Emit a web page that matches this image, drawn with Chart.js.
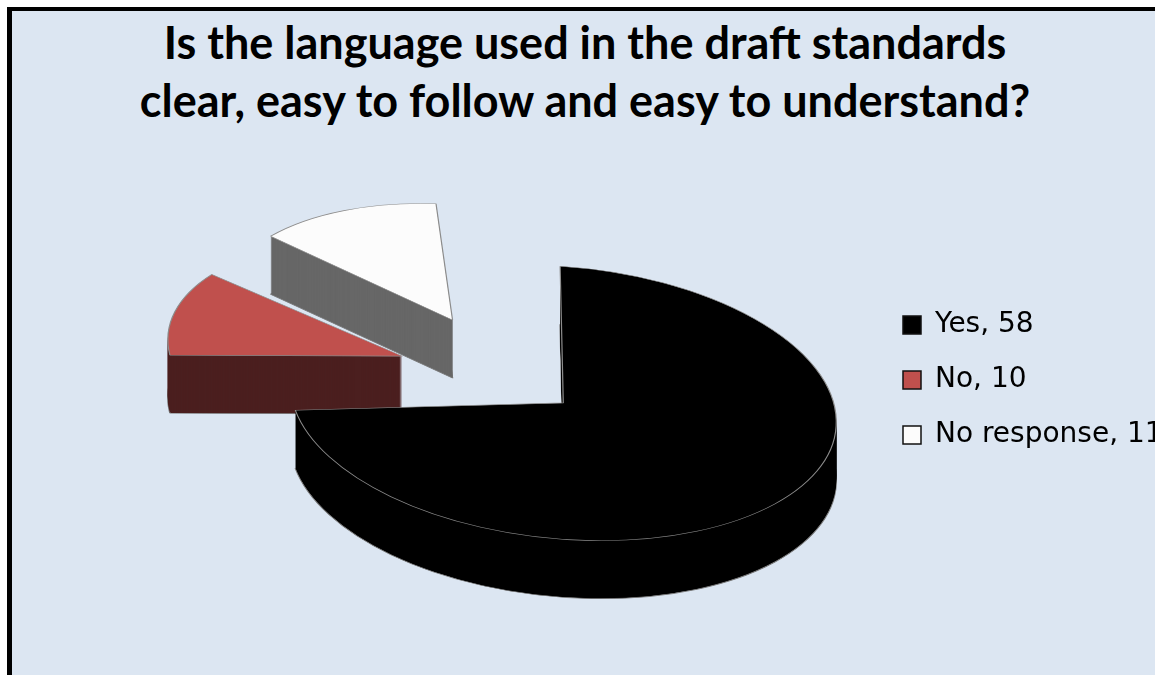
<!DOCTYPE html>
<html><head><meta charset="utf-8">
<script src="https://cdn.jsdelivr.net/npm/chart.js@4.4.1/dist/chart.umd.min.js"></script>
<style>
html,body{margin:0;padding:0;background:#fff;width:1155px;height:675px;overflow:hidden;}
#frame{position:absolute;left:7px;top:7px;width:1148px;height:668px;box-sizing:border-box;background:#dce6f2;border-top:4px solid #000;border-left:5px solid #000;}
#title{position:absolute;left:0;top:13px;width:1170px;text-align:center;font-family:Lato,sans-serif;font-weight:bold;font-size:45px;line-height:58px;color:#000;white-space:nowrap;}
#c{position:absolute;left:12px;top:11px;}
</style></head><body>
<div id="frame"></div>
<div id="title"></div>
<canvas id="c" width="1143" height="664"></canvas>
<script>
const titleLines = ['Is the language used in the draft standards', 'clear, easy to follow and easy to understand?'];
const categories = ['Yes', 'No', 'No response'];
const responses = [58, 10, 11];
const topColors = ['#000000', '#c0504d', '#fcfcfc'];
const sideColors = ['#000000', '#4b1f1f', '#676767'];

const titleEl = document.getElementById('title');
titleLines.forEach(t => { const d = document.createElement('div'); d.textContent = t; titleEl.appendChild(d); });

const extrude = {
  id: 'extrude',
  beforeDatasetsDraw(chart, args, o) {
    const arcs = chart.getDatasetMeta(0).data;
    this._saved = false;
    if (!arcs.length) return;
    const ctx = chart.ctx;
    ctx.save();
    this._saved = true;
    const cx = arcs[0].x, cy = arcs[0].y;
    ctx.translate(cx, cy); ctx.transform(1, o.shear, 0, o.tilt, 0, 0); ctx.translate(-cx, -cy);
    const step = 1 / o.tilt;
    o.order.forEach(i => {
      const a = arcs[i];
      for (let d = o.depth; d >= 1; d--) {
        const g = Object.create(a);
        g.options = Object.assign({}, a.options, {
          backgroundColor: o.sideColors[i],
          borderColor: o.edgeColor,
          borderWidth: d === o.depth ? 1.5 : 0
        });
        ctx.save(); ctx.translate(0, d * step); g.draw(ctx); ctx.restore();
      }
    });
  },
  afterDatasetsDraw(chart) { if (this._saved) chart.ctx.restore(); this._saved = false; }
};

new Chart(document.getElementById('c'), {
  type: 'pie',
  data: {
    labels: categories,
    datasets: [{
      data: responses,
      backgroundColor: topColors,
      borderColor: '#8c8c8c',
      borderWidth: 1.2,
      offset: [280, 440, 480],
      radius: 203,
      cutout: '0%',
      rotation: -3,
      clip: false
    }]
  },
  options: {
    responsive: false, animation: false, devicePixelRatio: 1, events: [],
    cutout: '0%',
    layout: { padding: { left: 130, right: 0, top: 126, bottom: 58 } },
    plugins: {
      title: { display: false },
      legend: {
        position: 'right', align: 'center', maxWidth: 279,
        title: { display: true, text: '', font: { size: 6, lineHeight: 1 }, padding: 0 },
        labels: {
          boxWidth: 18, boxHeight: 18, padding: 27, color: '#000',
          font: { family: 'DejaVu Sans', size: 28 },
          generateLabels: (chart) => categories.map((c, i) => ({
            text: c + ', ' + responses[i],
            fillStyle: topColors[i], strokeStyle: '#111', lineWidth: 1.5,
            fontColor: '#000', hidden: false, index: i
          }))
        }
      },
      tooltip: { enabled: false },
      extrude: { tilt: 0.5, shear: 0.07, depth: 58, order: [2, 1, 0], sideColors: sideColors, edgeColor: '#777' }
    }
  },
  plugins: [extrude]
});
</script></body></html>
